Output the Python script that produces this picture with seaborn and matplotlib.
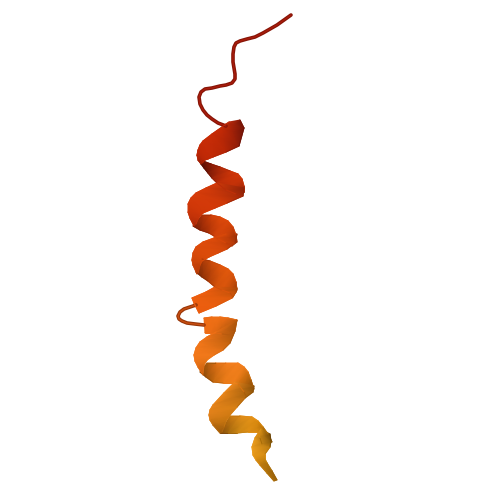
import numpy as np
import pandas as pd
import seaborn as sns
import matplotlib.pyplot as plt
from matplotlib.colors import to_rgb

# coil pieces (pixels)
coil_top_x = [291, 284, 277, 270, 263, 255, 247, 240, 236, 234, 233, 233, 234, 235, 235, 232, 226, 220, 212, 205, 201, 199, 200, 203, 207, 212, 218, 226]
coil_top_y = [15, 20, 25, 29, 33, 37, 39, 41, 43, 47, 54, 62, 68, 74, 79, 83, 85, 86, 88, 89, 92, 97, 104, 110, 115, 119, 123, 126]
coil_mid_x = [196, 190, 184, 180, 178, 179, 182, 187, 195, 204]
coil_mid_y = [305, 307, 309, 312, 316, 319, 321, 323, 324, 325]

# ribbon strips: upper edge, lower edge and colours on both edges
a_upper = [(229, 122), (226, 124), (222, 127), (212, 134), (203, 141), (200, 145), (198, 150), (197, 155), (198, 160), (201, 164)]
a_lower = [(240, 120), (244, 128), (239, 146), (226, 152), (213, 157), (208, 159), (205, 160), (203, 162), (202, 163), (201, 164)]
a_ucol = ['#c42f10', '#c22a08', '#c42a06', '#c82c06', '#c82c08', '#c42a06', '#c02806', '#b82606', '#a82206', '#8a1a06']
a_lcol = ['#7a1608', '#701408', '#8c1c08', '#b42606', '#c02a06', '#c02806', '#bc2806', '#b02406', '#9a2006', '#8a1a06']

b_upper = [(203, 161), (211, 164), (220, 167), (230, 171), (238, 174), (242, 179), (244, 186), (244, 192)]
b_lower = [(201, 164), (204, 168), (208, 173), (212, 178), (217, 183), (226, 190), (236, 194), (240, 196)]
b_ucol = ['#701406', '#8a1c06', '#b02a08', '#cc3508', '#d43808', '#c83408', '#a82a08', '#8a2008']
b_lcol = ['#5a1004', '#5e1004', '#761806', '#962208', '#b82c08', '#c03008', '#a82808', '#8a2008']

c_upper = [(217, 183), (206, 188), (196, 193), (191, 198), (188, 204), (188, 212), (190, 218), (194, 226)]
c_lower = [(244, 188), (243, 196), (227, 203), (215, 208), (203, 213), (200, 216), (198, 219), (196, 224)]
c_ucol = ['#d43a0a', '#d63c0a', '#d63c0a', '#d43a0a', '#d03808', '#c83408', '#c03008', '#a82a08']
c_lcol = ['#8a2208', '#a02808', '#cc3808', '#d43a08', '#d03808', '#c83408', '#c03208', '#a82a08']

d_upper = [(202, 215), (211, 215), (220, 217), (228, 221), (233, 227), (236, 235), (237, 242)]
d_lower = [(193, 226), (200, 230), (209, 233), (214, 236), (218, 239), (226, 243), (232, 246)]
d_ucol = ['#a83008', '#d04008', '#e04a0a', '#dc480a', '#c84008', '#a83408', '#902c08']
d_lcol = ['#7a2006', '#8a2406', '#b03408', '#d0420a', '#d8460a', '#c03c08', '#902c08']

e_upper = [(226, 234), (214, 238), (203, 242), (196, 247), (193, 253), (192, 260), (193, 265), (197, 274)]
e_lower = [(237, 234), (235, 243), (227, 249), (218, 253), (209, 257), (202, 261), (200, 265), (198, 273)]
e_ucol = ['#d8480a', '#e04c0a', '#e04c0c', '#dc4a0a', '#d84a0a', '#d04608', '#c84208', '#b83c08']
e_lcol = ['#983008', '#b03808', '#d0460a', '#dc4c0a', '#dc4c0a', '#d04808', '#c04008', '#b83c08']

f_upper = [(202, 259), (210, 261), (220, 265), (228, 269), (233, 274), (236, 282), (237, 290)]
f_lower = [(196, 272), (202, 277), (208, 281), (215, 287), (222, 290), (230, 293), (233, 297)]
f_ucol = ['#a83808', '#c84a0a', '#e0560c', '#e45a0c', '#d8540c', '#b8480a', '#9c3c08']
f_lcol = ['#7a2a06', '#8c3006', '#aa3c08', '#d0500a', '#dc560c', '#c04c0a', '#9c3c08']

g_upper = [(215, 287), (206, 292), (192, 298), (194, 303), (199, 313)]
g_lower = [(237, 288), (236, 292), (232, 298), (216, 306), (199, 313)]
g_ucol = ['#e85a0e', '#ee5e10', '#f06010', '#ee5e10', '#ea5c0e']
g_lcol = ['#a84808', '#bc5008', '#dc5a0c', '#ea5e0e', '#ea5c0e']

h_upper = [(204, 318), (212, 317), (220, 317), (228, 318), (237, 320)]
h_lower = [(205, 333), (210, 333), (215, 333), (222, 334), (233, 335)]
h_ucol = ['#ee6c14', '#f07016', '#f07016', '#e46a14', '#b85c0e']
h_lcol = ['#ee6c14', '#ec6c14', '#e06812', '#b85a0e', '#9a4c0a']

i_upper = [(216, 332), (207, 337), (200, 342), (196, 348), (194, 355), (195, 361), (198, 367), (203, 375)]
i_lower = [(237, 320), (235, 331), (230, 343), (223, 350), (214, 355), (207, 360), (204, 365), (203, 373)]
i_ucol = ['#ee7016', '#f07418', '#f2761a', '#f4781a', '#f4781a', '#ee7418', '#e06c14', '#c86010']
i_lcol = ['#b0580c', '#a8540c', '#c0620e', '#e07016', '#f0781a', '#e87618', '#d86c14', '#c86010']

j_upper = [(207, 363), (216, 363), (226, 363), (238, 363), (244, 367), (248, 372), (251, 380), (254, 389)]
j_lower = [(200, 372), (206, 377), (213, 382), (223, 383), (233, 383), (238, 384), (244, 392), (246, 396)]
j_ucol = ['#a85a0c', '#e07016', '#f47e1e', '#f6801e', '#ec7c1a', '#d07010', '#a85c0a', '#8c4e08']
j_lcol = ['#8a4808', '#9a5008', '#c0660e', '#e87a18', '#f07e1a', '#d87210', '#a85c0a', '#8c4e08']

k_upper = [(235, 382), (224, 393), (213, 405), (210, 410), (209, 415), (210, 420), (213, 425), (220, 433)]
k_lower = [(254, 386), (253, 392), (245, 398), (237, 407), (230, 415), (226, 421), (224, 427), (222, 432)]
k_ucol = ['#ec861c', '#ea861a', '#e8841a', '#e4821a', '#e0801a', '#d07814', '#b86a0e', '#9c5a0a']
k_lcol = ['#8a5008', '#94580a', '#b86c10', '#d88014', '#d07a12', '#c47410', '#ae660e', '#9c5a0a']

l_upper = [(230, 416), (240, 416), (252, 417), (258, 421), (263, 427), (268, 434), (272, 442)]
l_lower = [(220, 433), (228, 433), (237, 433), (248, 432), (258, 432), (260, 438), (262, 444)]
l_ucol = ['#c8780e', '#e08c18', '#e89418', '#d8880e', '#b87208', '#8c5806', '#7c4e06']
l_lcol = ['#80480a', '#a0660c', '#c88414', '#e09016', '#d88a10', '#a86c08', '#7c4e06']

m_upper = [(261, 429), (255, 438), (252, 447), (253, 455), (256, 460), (260, 465), (267, 473), (274, 481)]
m_lower = [(270, 434), (271, 441), (270, 447), (265, 454), (265, 459), (267, 463), (272, 471), (277, 480)]
m_ucol = ['#d88e14', '#e89a1c', '#ee9e1e', '#e89a1a', '#d88c14', '#c07c10', '#b0720c', '#a8680c']
m_lcol = ['#6c4406', '#805408', '#b87a10', '#d88e16', '#c8840e', '#b0740c', '#9c640a', '#9c640a']

sns.set_theme(style='white')
fig, ax = plt.subplots(figsize=(5, 5), dpi=100)
fig.subplots_adjust(left=0, right=1, top=1, bottom=0)


def draw_strip(upper, lower, ucol, lcol):
    up = np.array(upper, dtype=float)
    lo = np.array(lower, dtype=float)
    X = np.vstack([up[:, 0], lo[:, 0]])
    Y = np.vstack([up[:, 1], lo[:, 1]])
    C = np.array([[to_rgb(c) for c in ucol], [to_rgb(c) for c in lcol]])
    ax.pcolormesh(X, Y, C, shading='gouraud')
    # soften the jagged outline
    for pts, cols in ((up, ucol), (lo, lcol)):
        for i in range(len(pts) - 1):
            ax.plot(pts[i:i + 2, 0], pts[i:i + 2, 1], color=cols[i], lw=0.7, solid_capstyle='round')


def draw_coil(xs, ys, dark, light):
    df = pd.DataFrame({'x': xs, 'y': ys})
    sns.lineplot(data=df, x='x', y='y', sort=False, estimator=None, color=dark, linewidth=2.6, ax=ax)
    sns.lineplot(data=df, x='x', y='y', sort=False, estimator=None, color=light, linewidth=1.0, ax=ax)


# back faces first
draw_strip(b_upper, b_lower, b_ucol, b_lcol)
draw_strip(d_upper, d_lower, d_ucol, d_lcol)
draw_strip(f_upper, f_lower, f_ucol, f_lcol)
draw_coil(coil_mid_x, coil_mid_y, '#983608', '#c84e10')
draw_strip(h_upper, h_lower, h_ucol, h_lcol)
draw_strip(j_upper, j_lower, j_ucol, j_lcol)
draw_strip(l_upper, l_lower, l_ucol, l_lcol)
draw_coil(coil_top_x, coil_top_y, '#861406', '#a81c0c')

# front faces
draw_strip(a_upper, a_lower, a_ucol, a_lcol)
draw_strip(c_upper, c_lower, c_ucol, c_lcol)
draw_strip(e_upper, e_lower, e_ucol, e_lcol)
draw_strip(g_upper, g_lower, g_ucol, g_lcol)
draw_strip(i_upper, i_lower, i_ucol, i_lcol)
draw_strip(k_upper, k_lower, k_ucol, k_lcol)
draw_strip(m_upper, m_lower, m_ucol, m_lcol)

ax.set_xlim(0, 500)
ax.set_ylim(500, 0)
ax.axis('off')
fig.savefig('out.png', dpi=100, facecolor='white')
